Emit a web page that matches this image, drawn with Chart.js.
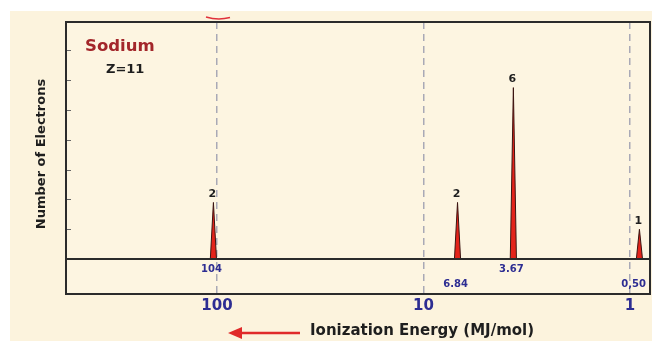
<!DOCTYPE html>
<html>
<head>
<meta charset="utf-8">
<script src="https://cdn.jsdelivr.net/npm/chart.js@4.4.1/dist/chart.umd.min.js"></script>
<style>
  html, body { margin: 0; padding: 0; background: #fff; }
  #wrap { width: 652px; height: 341px; position: relative; }
</style>
</head>
<body>
<div id="wrap"><canvas id="pes"></canvas></div>
<script>
// Sodium photoelectron spectrum
const peakEnergies = [104, 6.84, 3.67, 0.9];   // where each peak sits on the log axis
const peakLabels = ["104", "6.84", "3.67", "0,50"];
const peakHeights = [1.9, 1.9, 5.75, 1.0];
const electronCounts = ["2", "2", "6", "1"];
const xTicks = [100, 10, 1];
const yTicks = [1, 2, 3, 4, 5, 6, 7];

const FONT = "'DejaVu Sans', Verdana, sans-serif";
const NAVY = "#2d2d92";

// each peak = thin triangle around its energy
const peakSets = peakEnergies.map((e, i) => ({
  data: [
    { x: e / 1.035, y: 0 },
    { x: e, y: peakHeights[i] },
    { x: e * 1.035, y: 0 }
  ],
  borderColor: "#3b1411",
  borderWidth: 1,
  backgroundColor: "#e3231a",
  fill: "origin",
  tension: 0,
  pointRadius: 0
}));

const decor = {
  id: "decor",
  beforeDraw(chart) {
    const c = chart.ctx;
    c.save();
    c.fillStyle = "#ffffff";
    c.fillRect(0, 0, chart.width, chart.height);
    c.fillStyle = "#fcf3dd";
    c.fillRect(10, 11, chart.width - 10, chart.height - 11);
    const a = chart.chartArea;
    c.fillStyle = "#fdf5e1";
    c.fillRect(a.left, a.top, a.right - a.left, a.bottom - a.top);
    c.restore();
  },
  afterDatasetsDraw(chart) {
    const c = chart.ctx, a = chart.chartArea;
    const xs = chart.scales.x, ys = chart.scales.y;
    c.save();
    // y tick marks (inside the frame)
    c.strokeStyle = "#666";
    c.lineWidth = 1;
    yTicks.forEach(v => {
      const y = Math.round(ys.getPixelForValue(v)) + 0.5;
      c.beginPath();
      c.moveTo(a.left, y);
      c.lineTo(a.left + 5, y);
      c.stroke();
    });
    // baseline and frame
    c.strokeStyle = "#2b2b2b";
    c.lineWidth = 2;
    const y0 = ys.getPixelForValue(0);
    c.beginPath();
    c.moveTo(a.left, y0);
    c.lineTo(a.right, y0);
    c.stroke();
    c.strokeRect(a.left, a.top, a.right - a.left, a.bottom - a.top);

    // electron counts above peaks, energies below the baseline
    c.textAlign = "center";
    peakEnergies.forEach((e, i) => {
      const px = xs.getPixelForValue(e);
      const top = ys.getPixelForValue(peakHeights[i]);
      c.fillStyle = "#1e1e1e";
      c.font = "bold 11px " + FONT;
      c.textBaseline = "bottom";
      c.fillText(electronCounts[i], px - 1, top - 3);

      c.font = "bold 10px " + FONT;
      c.fillStyle = NAVY;
      c.textBaseline = "middle";
      const w = c.measureText(peakLabels[i]).width;
      const lx = Math.min(px - 2, a.right - 4 - w / 2);
      const ly = ys.getPixelForValue(i % 2 ? -0.85 : -0.33);
      c.fillText(peakLabels[i], lx, ly);
    });
    c.restore();
  },
  afterDraw(chart) {
    const c = chart.ctx, a = chart.chartArea;
    c.save();
    c.textBaseline = "middle";
    c.textAlign = "left";
    c.fillStyle = "#a3262a";
    c.font = "bold 16.5px " + FONT;
    c.fillText("Sodium", 85, 47);
    c.fillStyle = "#1e1e1e";
    c.font = "bold 13px " + FONT;
    c.fillText("Z=11", 106, 70);

    // x title with arrow
    c.font = "bold 15px " + FONT;
    c.fillStyle = "#1e1e1e";
    c.fillText("Ionization Energy (MJ/mol)", 310, 331);
    c.strokeStyle = "#e02a2a";
    c.fillStyle = "#e02a2a";
    c.lineWidth = 2.5;
    c.beginPath();
    c.moveTo(300, 333);
    c.lineTo(238, 333);
    c.stroke();
    c.beginPath();
    c.moveTo(228, 333);
    c.lineTo(242, 327);
    c.lineTo(242, 339);
    c.closePath();
    c.fill();

    // y title
    c.fillStyle = "#1e1e1e";
    c.translate(42, (a.top + a.bottom) / 2 - 4);
    c.rotate(-Math.PI / 2);
    c.textAlign = "center";
    c.font = "bold 13px " + FONT;
    c.fillText("Number of Electrons", 0, 0);
    c.restore();

    // small red stroke above the frame
    c.save();
    c.strokeStyle = "#e0303a";
    c.lineWidth = 1.5;
    c.beginPath();
    c.moveTo(206, 17);
    c.quadraticCurveTo(218, 20.5, 230, 17.5);
    c.stroke();
    c.restore();
  }
};

new Chart(document.getElementById("pes"), {
  type: "line",
  data: { datasets: peakSets },
  plugins: [decor],
  options: {
    responsive: true,
    maintainAspectRatio: false,
    animation: false,
    devicePixelRatio: 1,
    layout: { padding: { left: 66, right: 2, top: 22, bottom: 26 } },
    plugins: { legend: { display: false }, tooltip: { enabled: false } },
    scales: {
      x: {
        type: "logarithmic",
        reverse: true,
        min: 0.8,
        max: 538,
        afterBuildTicks: s => { s.ticks = xTicks.map(v => ({ value: v })); },
        afterFit: s => { s.height = 21; },
        grid: {
          color: "#a9a9b6",
          lineWidth: 1.5,
          drawTicks: false
        },
        border: { display: false, dash: [7, 5] },
        ticks: {
          padding: 3,
          color: NAVY,
          font: { family: FONT, size: 15, weight: "bold" },
          maxRotation: 0,
          autoSkip: false,
          callback: v => String(v)
        }
      },
      y: {
        display: false,
        min: -1.17,
        max: 7.95
      }
    }
  }
});
</script>
</body>
</html>
